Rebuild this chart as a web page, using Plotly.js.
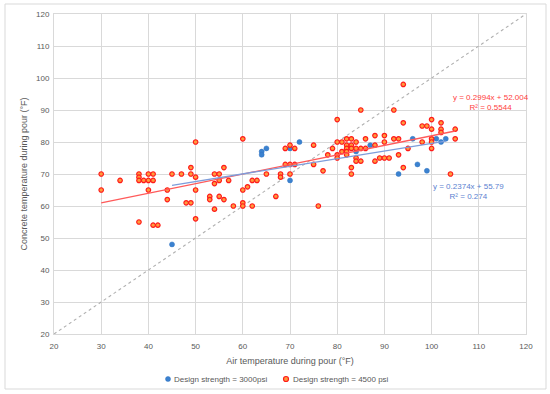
<!DOCTYPE html>
<html>
<head>
<meta charset="utf-8">
<script src="https://cdn.plot.ly/plotly-3.0.1.min.js"></script>
<style>
html,body{margin:0;padding:0;background:#fff;}
#chart{width:550px;height:394px;}
</style>
</head>
<body>
<div id="chart"></div>
<script>
// Design strength = 3000 psi
const airTemp3000 = [45, 64, 64, 65, 70, 70, 72, 84, 87, 93, 96, 97, 99, 101, 102, 103];
const concTemp3000 = [48, 77, 76, 78, 78, 68, 80, 77, 79, 70, 81, 73, 71, 81, 80, 81];

// Design strength = 4500 psi
const airTemp4500 = [
  30, 30, 34, 38, 38, 38, 38, 39, 40, 40, 40, 41, 41, 41, 42, 44, 44, 45, 47, 48,
  49, 49, 49, 50, 50, 50, 50, 53, 53, 54, 54, 54, 55, 55, 55, 56, 56, 57, 58,
  60, 60, 60, 60, 61, 62, 62, 63, 65, 67, 68, 68, 69, 69, 70, 70, 70, 71, 71,
  75, 75, 76, 77, 78, 79, 80, 80, 80, 80, 81, 81, 82, 82, 82, 82, 82,
  83, 83, 83, 83, 83, 84, 84, 84, 84, 85, 85, 85, 86, 86, 88, 88, 88, 89,
  90, 90, 90, 91, 92, 92, 93, 93, 94, 94, 94, 95, 98, 98, 99,
  100, 100, 100, 100, 100, 102, 102, 102, 104, 105, 105
];
const concTemp4500 = [
  70, 65, 68, 70, 69, 68, 55, 68, 70, 68, 65, 70, 68, 54, 54, 65, 62, 70, 70, 61,
  72, 70, 61, 80, 69, 65, 56, 63, 62, 70, 67, 59, 70, 68, 63, 72, 62, 68, 60,
  81, 65, 61, 60, 66, 68, 60, 68, 70, 63, 70, 69, 78, 73, 79, 73, 70, 78, 73,
  79, 73, 60, 71, 76, 78, 87, 80, 76, 75, 80, 77, 81, 79, 78, 77, 76,
  81, 79, 78, 72, 70, 80, 78, 75, 74, 90, 78, 74, 81, 78, 82, 79, 74, 75,
  82, 80, 75, 75, 90, 81, 81, 76, 98, 86, 72, 78, 85, 80, 85,
  87, 84, 81, 80, 78, 86, 84, 83, 70, 84, 81
];

// Linear trendlines shown on the chart (slope, intercept, R², x-range)
const trend3000 = {slope: 0.2374, intercept: 55.79, r2: 0.274, xRange: [45, 103]};
const trend4500 = {slope: 0.2994, intercept: 52.004, r2: 0.5544, xRange: [30, 105]};

const seriesNames = ["Design strength = 3000psi", "Design strength = 4500 psi"];
const xTicks = [20, 30, 40, 50, 60, 70, 80, 90, 100, 110, 120];
const yTicks = [20, 30, 40, 50, 60, 70, 80, 90, 100, 110, 120];
const equalityLine = [20, 120];

const font = "Liberation Sans, Arial, sans-serif";
const grey = "#595959";
const blue = "#3b82d0", redFill = "#ff9a3c", redLine = "#ff1a1a";

function lineY(t) { return t.xRange.map(x => t.slope * x + t.intercept); }

const traces = [
  {x: equalityLine, y: equalityLine, mode: "lines", type: "scatter", showlegend: false,
   line: {color: "#b0b0b0", width: 1.1, dash: "3px,3px"}},
  {x: airTemp3000, y: concTemp3000, mode: "markers", type: "scatter", name: seriesNames[0],
   marker: {color: blue, size: 5, line: {color: "#2f72c0", width: 0.5}}},
  {x: airTemp4500, y: concTemp4500, mode: "markers", type: "scatter", name: seriesNames[1],
   marker: {color: redFill, size: 4.5, line: {color: redLine, width: 1.2}}},
  {x: trend4500.xRange, y: lineY(trend4500), mode: "lines", type: "scatter", showlegend: false,
   line: {color: "#ff5a5a", width: 1.3}},
  {x: trend3000.xRange, y: lineY(trend3000), mode: "lines", type: "scatter", showlegend: false,
   line: {color: "#7d9ddb", width: 1.3}}
];

const W = 472, H = 320, L = 54, T = 14;
function px2x(p) { return (p - L) / W; }
function py2y(p) { return (T + H - p) / H; }

const axisCommon = {
  range: [20, 120], showgrid: true, gridcolor: "#d9d9d9", gridwidth: 1,
  zeroline: false, showline: true, linecolor: "#d9d9d9", mirror: true, ticks: "",
  automargin: false, tickfont: {family: font, size: 8, color: grey}
};

const layout = {
  width: 550, height: 394,
  margin: {l: L, r: 550 - L - W, t: T, b: 394 - T - H},
  paper_bgcolor: "#ffffff", plot_bgcolor: "#ffffff",
  font: {family: font, size: 8, color: grey},
  showlegend: false,
  xaxis: Object.assign({}, axisCommon, {
    tickvals: xTicks, ticklabelstandoff: 4,
    title: {text: "Air temperature during pour (°F)", font: {family: font, size: 9, color: grey}, standoff: 8}
  }),
  yaxis: Object.assign({}, axisCommon, {
    tickvals: yTicks, ticklabelstandoff: 2,
    title: {text: "Concrete temperature during pour (°F)", font: {family: font, size: 9, color: grey}, standoff: 6}
  }),
  annotations: [
    {xref: "paper", yref: "paper", x: px2x(491), y: py2y(103), xanchor: "center", yanchor: "middle",
     showarrow: false, align: "center",
     text: "y = " + trend4500.slope + "x + " + trend4500.intercept + "<br>R² = " + trend4500.r2,
     font: {family: font, size: 8, color: "#ff4040"}},
    {xref: "paper", yref: "paper", x: px2x(468), y: py2y(191), xanchor: "center", yanchor: "middle",
     showarrow: false, align: "center",
     text: "y = " + trend3000.slope + "x + " + trend3000.intercept + "<br>R² = " + trend3000.r2,
     font: {family: font, size: 8, color: "#5b7fd0"}},
    {xref: "paper", yref: "paper", x: px2x(172), y: py2y(379), xanchor: "left", yanchor: "middle",
     showarrow: false, text: seriesNames[0], font: {family: font, size: 8, color: grey}},
    {xref: "paper", yref: "paper", x: px2x(291), y: py2y(379), xanchor: "left", yanchor: "middle",
     showarrow: false, text: seriesNames[1], font: {family: font, size: 8, color: grey}}
  ],
  shapes: [
    {type: "rect", xref: "paper", yref: "paper",
     x0: px2x(5), x1: px2x(546), y0: py2y(389), y1: py2y(4),
     line: {color: "#d9d9d9", width: 1}, layer: "below"},
    {type: "circle", xref: "paper", yref: "paper",
     x0: px2x(165.5), x1: px2x(170.5), y0: py2y(381.5), y1: py2y(376.5),
     fillcolor: blue, line: {color: "#2f72c0", width: 0.5}},
    {type: "circle", xref: "paper", yref: "paper",
     x0: px2x(283.5), x1: px2x(288.5), y0: py2y(381.5), y1: py2y(376.5),
     fillcolor: redFill, line: {color: redLine, width: 1.2}}
  ]
};

Plotly.newPlot("chart", traces, layout, {displayModeBar: false, staticPlot: true});
</script>
</body>
</html>
